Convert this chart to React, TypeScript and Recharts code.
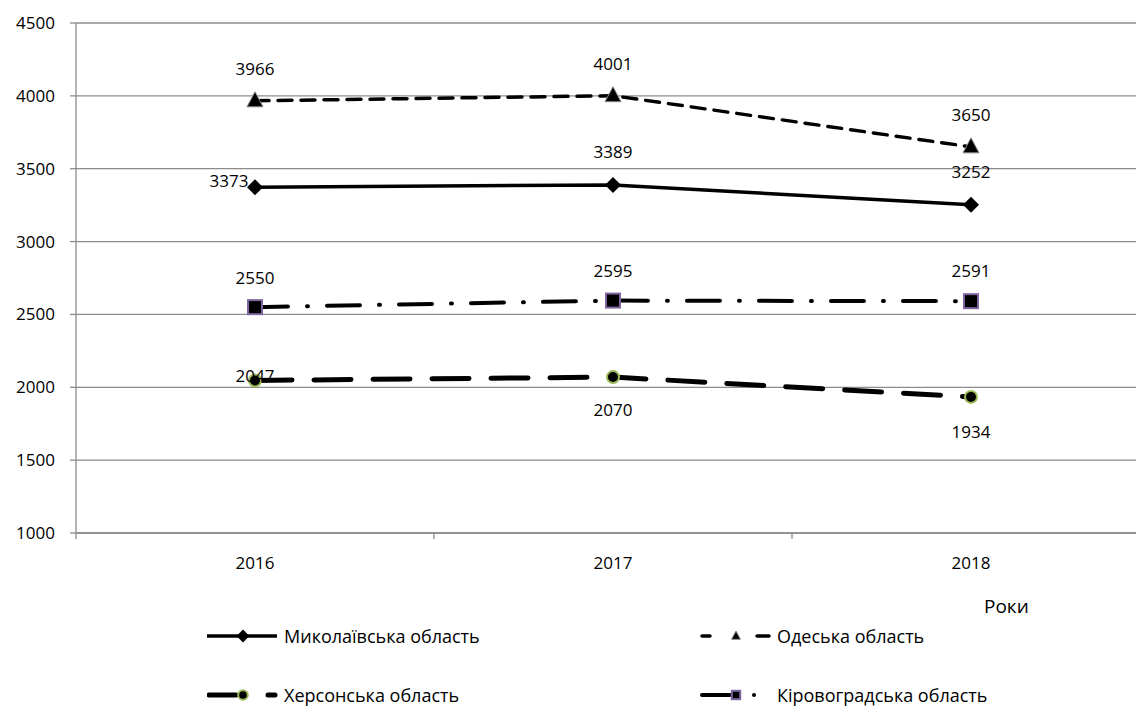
import { LineChart, Line, XAxis, YAxis, CartesianGrid, LabelList } from 'recharts'

const years = ['2016', '2017', '2018']
const mykolaiv = [3373, 3389, 3252]
const odesa = [3966, 4001, 3650]
const kherson = [2047, 2070, 1934]
const kirovohrad = [2550, 2595, 2591]
const yTicks = [1000, 1500, 2000, 2500, 3000, 3500, 4000, 4500]

const data = years.map((year, i) => ({
  year,
  mykolaiv: mykolaiv[i],
  odesa: odesa[i],
  kherson: kherson[i],
  kirovohrad: kirovohrad[i],
}))

const FONT = '"Open Sans", sans-serif'
const GRID = '#8c8c8c'
const CHART_W = 1150
const PLOT_LEFT = 76
const BAND = (CHART_W - PLOT_LEFT) / years.length

type Marker = 'diamond' | 'triangle' | 'circle' | 'square'

const drawMarker = (kind: Marker, cx: number, cy: number, k = 1) => {
  if (kind === 'diamond') {
    const s = 8 * k
    return <polygon points={`${cx},${cy - s} ${cx + s},${cy} ${cx},${cy + s} ${cx - s},${cy}`} fill="#000" />
  }
  if (kind === 'triangle') {
    const w = 8 * k
    return (
      <polygon
        points={`${cx},${cy - 9 * k} ${cx + w},${cy + 6 * k} ${cx - w},${cy + 6 * k}`}
        fill="#000"
        stroke="#888"
        strokeWidth={1}
      />
    )
  }
  if (kind === 'circle') {
    return <circle cx={cx} cy={cy} r={6 * k} fill="#000" stroke="#9bbb59" strokeWidth={2} />
  }
  const s = 7 * k
  return <rect x={cx - s} y={cy - s} width={s * 2} height={s * 2} fill="#000" stroke="#8064a2" strokeWidth={2} />
}

// legend sample: short line pieces (x from, x to) drawn across a 70px sample
const series = [
  {
    key: 'mykolaiv',
    name: 'Миколаївська область',
    dash: undefined,
    width: 3.5,
    marker: 'diamond' as Marker,
    labels: [[-26, -7], [0, -33], [0, -33]],
    sample: [[0, 70]],
    sampleDot: null as number | null,
    sampleScale: 0.8,
  },
  {
    key: 'odesa',
    name: 'Одеська область',
    dash: '14 9',
    width: 3.5,
    marker: 'triangle' as Marker,
    labels: [[0, -32], [0, -32], [0, -32]],
    sample: [[2, 10], [57, 69]],
    sampleDot: null as number | null,
    sampleScale: 0.55,
  },
  {
    key: 'kherson',
    name: 'Херсонська область',
    dash: '37 22',
    width: 5,
    marker: 'circle' as Marker,
    labels: [[0, -5], [0, 32], [0, 35]],
    sample: [[2, 29], [61, 68]],
    sampleDot: null as number | null,
    sampleScale: 0.8,
  },
  {
    key: 'kirovohrad',
    name: 'Кіровоградська область',
    dash: '33 19 1 19',
    width: 4,
    marker: 'square' as Marker,
    labels: [[0, -30], [0, -30], [0, -31]],
    sample: [[2, 30]],
    sampleDot: 54 as number | null,
    sampleScale: 0.6,
  },
]

const legendSlots = [
  { left: 207, top: 636 },
  { left: 700, top: 636 },
  { left: 207, top: 695 },
  { left: 700, top: 695 },
]
const legendOrder = ['mykolaiv', 'odesa', 'kherson', 'kirovohrad']

const XTick = (props: any) => {
  const { x, y, payload } = props
  return (
    <g>
      <line x1={x - BAND / 2} x2={x - BAND / 2} y1={y - 23} y2={y - 17} stroke={GRID} strokeWidth={1.3} />
      <text x={x} y={y + 6} textAnchor="middle" dominantBaseline="central" fontSize={17} fontFamily={FONT} fill="#000">
        {payload.value}
      </text>
    </g>
  )
}

export default function App() {
  return (
    <div
      style={{
        position: 'absolute',
        left: 0,
        top: 0,
        width: 1136,
        height: 706,
        overflow: 'hidden',
        background: '#fff',
        fontFamily: FONT,
      }}
    >
      <LineChart width={CHART_W} height={573} data={data} margin={{ top: 23, right: 0, left: 0, bottom: 0 }}>
        <CartesianGrid vertical={false} stroke={GRID} strokeWidth={1.3} />
        <XAxis
          dataKey="year"
          height={40}
          padding={{ left: BAND / 2, right: BAND / 2 }}
          axisLine={{ stroke: GRID, strokeWidth: 1.3 }}
          tickLine={false}
          tickSize={6}
          tickMargin={17}
          tick={<XTick />}
          interval={0}
        />
        <YAxis
          width={PLOT_LEFT}
          domain={[1000, 4500]}
          ticks={yTicks}
          interval={0}
          axisLine={{ stroke: GRID, strokeWidth: 1.3 }}
          tickLine={{ stroke: GRID, strokeWidth: 1.3 }}
          tickSize={6}
          tickMargin={15}
          tick={{ fontSize: 17, fontFamily: FONT, fill: '#000' }}
        />
        {series.map((s) => (
          <Line
            key={s.key}
            dataKey={s.key}
            name={s.name}
            type="linear"
            stroke="#000"
            strokeWidth={s.width}
            strokeDasharray={s.dash}
            strokeLinecap={s.dash ? 'round' : 'butt'}
            isAnimationActive={false}
            dot={(p: any) => <g key={`${s.key}-${p.index}`}>{drawMarker(s.marker, p.cx, p.cy)}</g>}
            activeDot={false}
          >
            <LabelList
              dataKey={s.key}
              content={(p: any) => {
                const [dx, dy] = s.labels[p.index]
                return (
                  <text
                    x={p.x + dx}
                    y={p.y + dy}
                    textAnchor="middle"
                    dominantBaseline="central"
                    fontSize={17}
                    fontFamily={FONT}
                    fill="#000"
                  >
                    {p.value}
                  </text>
                )
              }}
            />
          </Line>
        ))}
      </LineChart>
      <div style={{ position: 'absolute', left: 984, top: 593, fontSize: 19, color: '#000' }}>Роки</div>
      {legendOrder.map((key, i) => {
        const s = series.find((v) => v.key === key)!
        const slot = legendSlots[i]
        return (
          <div
            key={key}
            style={{
              position: 'absolute',
              left: slot.left,
              top: slot.top - 14,
              height: 28,
              display: 'flex',
              alignItems: 'center',
              fontSize: 18,
              color: '#000',
              whiteSpace: 'nowrap',
            }}
          >
            <svg width={74} height={28} style={{ display: 'block' }}>
              {s.sample.map(([a, b], j) => (
                <line
                  key={j}
                  x1={a}
                  x2={b}
                  y1={14}
                  y2={14}
                  stroke="#000"
                  strokeWidth={s.width}
                  strokeLinecap={s.dash ? 'round' : 'butt'}
                />
              ))}
              {s.sampleDot !== null && <circle cx={s.sampleDot} cy={14} r={2} fill="#000" />}
              {drawMarker(s.marker, 36, 14, s.sampleScale)}
            </svg>
            <span style={{ marginLeft: 3 }}>{s.name}</span>
          </div>
        )
      })}
    </div>
  )
}
